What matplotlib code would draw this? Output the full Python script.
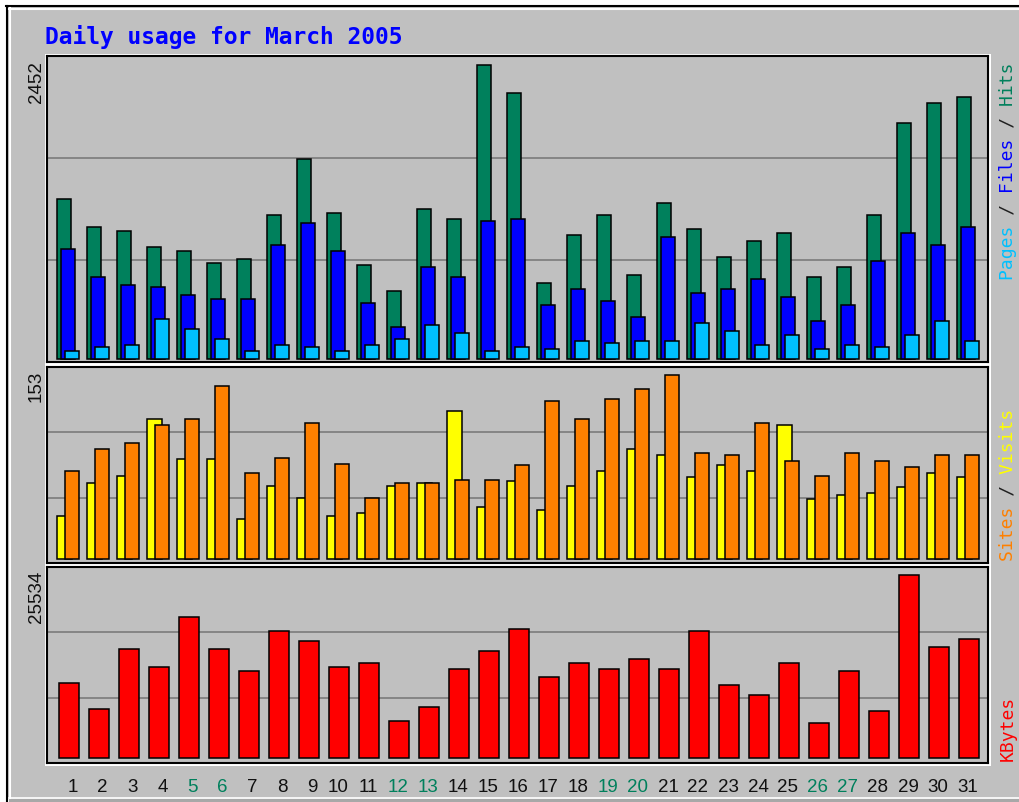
import matplotlib
matplotlib.use("Agg")
import matplotlib.pyplot as plt
from matplotlib.patches import Rectangle
from matplotlib.lines import Line2D
from matplotlib.transforms import ScaledTranslation
import numpy as np

# ---------------- data ----------------
days = list(range(1, 32))
day_labels = [str(d) for d in days]
weekend_days = [5, 6, 12, 13, 19, 20, 26, 27]

hits = [1333, 1097, 1066, 931, 897, 797, 831, 1200, 1666, 1214,
        781, 564, 1247, 1164, 2452, 2219, 631, 1031, 1197, 697,
        1297, 1081, 847, 981, 1047, 681, 764, 1197, 1964, 2131, 2181]
files = [917, 681, 614, 597, 531, 497, 497, 947, 1133, 897,
         464, 264, 764, 681, 1147, 1164, 447, 581, 481, 347,
         1014, 547, 581, 664, 514, 314, 447, 814, 1047, 947, 1097]
pages = [64, 97, 114, 331, 247, 164, 64, 114, 97, 64,
         114, 164, 281, 214, 64, 97, 81, 147, 131, 147,
         147, 297, 231, 114, 197, 81, 114, 97, 197, 314, 147]

visits = [36, 63, 69, 116, 83, 83, 33, 61, 51, 36,
          38, 61, 63, 123, 43, 65, 41, 61, 73, 91,
          86, 68, 78, 73, 111, 50, 53, 55, 60, 71, 68]
sites = [73, 91, 96, 111, 116, 144, 71, 84, 113, 79,
         51, 63, 63, 66, 66, 78, 131, 116, 133, 141,
         153, 88, 86, 113, 81, 69, 88, 81, 76, 86, 86]

kbytes = [10465, 6837, 15209, 12697, 19674, 15209, 12139, 17720, 16325, 12697,
          13255, 5163, 7116, 12418, 14930, 17999, 11302, 13255, 12418, 13813,
          12418, 17720, 10186, 8790, 13255, 4884, 12139, 6558, 25534, 15488, 16604]

title = "Daily usage for March 2005"

# ---------------- style ----------------
W, H = 1019, 803
DPI = 100
BG = "#C0C0C0"
C_HITS = "#00805C"
C_FILES = "#0000FF"
C_PAGES = "#00C0FF"
C_VISITS = "#FFFF00"
C_SITES = "#FF8000"
C_KB = "#FF0000"
GRID = "#808080"
EDGE = "#000000"
LW = 1.1

fig = plt.figure(figsize=(W / DPI, H / DPI), dpi=DPI, facecolor="white")

def fx(px):
    return px / W

def fy(py):
    return 1 - py / H

# outer panel background and frame
fig.add_artist(Rectangle((fx(6), fy(800)), fx(W) - fx(6), fy(6) - fy(800),
                         transform=fig.transFigure, facecolor=BG, edgecolor="none", zorder=-10))
fig.add_artist(Rectangle((fx(9), fy(803)), fx(W) - fx(9), fy(800) - fy(803),
                         transform=fig.transFigure, facecolor="#A8A8A8", edgecolor="none", zorder=-9))
fig.add_artist(Line2D([fx(6), fx(W)], [fy(7), fy(7)], transform=fig.transFigure,
                      color="black", lw=1.5, zorder=-8))
fig.add_artist(Line2D([fx(6.5), fx(6.5)], [fy(7), fy(803)], transform=fig.transFigure,
                      color="black", lw=1.5, zorder=-8))
fig.add_artist(Line2D([fx(9), fx(W)], [fy(9.5), fy(9.5)], transform=fig.transFigure,
                      color="white", lw=1.5, zorder=-8))
fig.add_artist(Line2D([fx(9.5), fx(9.5)], [fy(9), fy(799)], transform=fig.transFigure,
                      color="white", lw=1.5, zorder=-8))
fig.add_artist(Line2D([fx(9), fx(W)], [fy(798.5), fy(798.5)], transform=fig.transFigure,
                      color="white", lw=1.2, zorder=-8))

ax_left, ax_right = 47, 988
panels = {"top": (57, 363), "mid": (368, 564), "bot": (568, 764)}

def make_ax(top_px, bot_px):
    pos = [fx(ax_left), fy(bot_px), fx(ax_right) - fx(ax_left), fy(top_px) - fy(bot_px)]
    fig.add_artist(Rectangle((fx(ax_left - 2.5), fy(bot_px + 2.5)),
                             fx(ax_right + 2.5) - fx(ax_left - 2.5),
                             fy(top_px - 2.5) - fy(bot_px + 2.5),
                             transform=fig.transFigure, facecolor="white",
                             edgecolor="none", zorder=-5))
    ax = fig.add_axes(pos, facecolor=BG)
    for s in ax.spines.values():
        s.set_color("black")
        s.set_linewidth(1.5)
    ax.set_xlim(0.3, 31.667)
    ax.set_yticks([])
    ax.tick_params(axis="x", length=0)
    for f in (1 / 3, 2 / 3):
        ax.plot([0, 1], [f, f], transform=ax.transAxes, color=GRID, lw=1.3, zorder=0.5)
    return ax

x = np.array(days, dtype=float)

# ---- top panel: hits / files / pages
ax1 = make_ax(*panels["top"])
m1 = max(hits)
ax1.set_ylim(-0.0102 * m1, 1.0296 * m1)
ax1.bar(x - 0.135, hits, width=0.45, color=C_HITS, edgecolor=EDGE, linewidth=LW, zorder=2)
ax1.bar(x, files, width=0.45, color=C_FILES, edgecolor=EDGE, linewidth=LW, zorder=3)
ax1.bar(x + 0.14, pages, width=0.45, color=C_PAGES, edgecolor=EDGE, linewidth=LW, zorder=4)
ax1.set_xticks([])

# ---- middle panel: visits / sites
ax2 = make_ax(*panels["mid"])
m2 = max(max(visits), max(sites))
ax2.set_ylim(-0.0217 * m2, 1.0418 * m2)
ax2.bar(x - 0.11, visits, width=0.5, color=C_VISITS, edgecolor=EDGE, linewidth=LW, zorder=2)
ax2.bar(x + 0.14, sites, width=0.45, color=C_SITES, edgecolor=EDGE, linewidth=LW, zorder=3)
ax2.set_xticks([])

# ---- bottom panel: kbytes
ax3 = make_ax(*panels["bot"])
m3 = max(kbytes)
ax3.set_ylim(-0.0257 * m3, 1.0454 * m3)
ax3.bar(x + 0.03, kbytes, width=0.67, color=C_KB, edgecolor=EDGE, linewidth=LW, zorder=2)
ax3.set_xticks(x)
ax3.set_xticklabels(day_labels, fontsize=13.5, family="Liberation Sans")
ax3.tick_params(axis="x", pad=11)
shift = ScaledTranslation(4.5 / DPI, 0, fig.dpi_scale_trans)
for d, lab in zip(days, ax3.get_xticklabels()):
    lab.set_color(C_HITS if d in weekend_days else "#101010")
    if d < 10:
        lab.set_transform(lab.get_transform() + shift)

# ---- title
fig.text(fx(45), fy(44), title, color="#0000FF", fontsize=16.5,
         family="DejaVu Sans Mono", fontweight="bold", ha="left", va="baseline")

# ---- left max labels
for val, top_px in ((m1, 61), (m2, 371), (m3, 571)):
    fig.text(fx(36), fy(top_px), str(val), rotation=90, ha="center", va="top",
             fontsize=13.5, family="Liberation Sans", color="#101010")

# ---- right legends (monospace overlay)
def legend(parts, px_y, va):
    full = "".join(t for t, _ in parts)
    pos = 0
    for t, c in parts:
        s = " " * pos + t + " " * (len(full) - pos - len(t))
        fig.text(fx(1008), fy(px_y), s, rotation=90, ha="center", va=va,
                 fontsize=13, family="DejaVu Sans Mono", color=c)
        pos += len(t)

legend([("Pages", C_PAGES), (" / ", "#202020"), ("Files", C_FILES),
        (" / ", "#202020"), ("Hits", C_HITS)], 62, "top")
legend([("Sites", C_SITES), (" / ", "#202020"), ("Visits", C_VISITS)], 561, "bottom")
legend([("KBytes", C_KB)], 761, "bottom")

fig.savefig("out.png", dpi=DPI, facecolor=fig.get_facecolor())
